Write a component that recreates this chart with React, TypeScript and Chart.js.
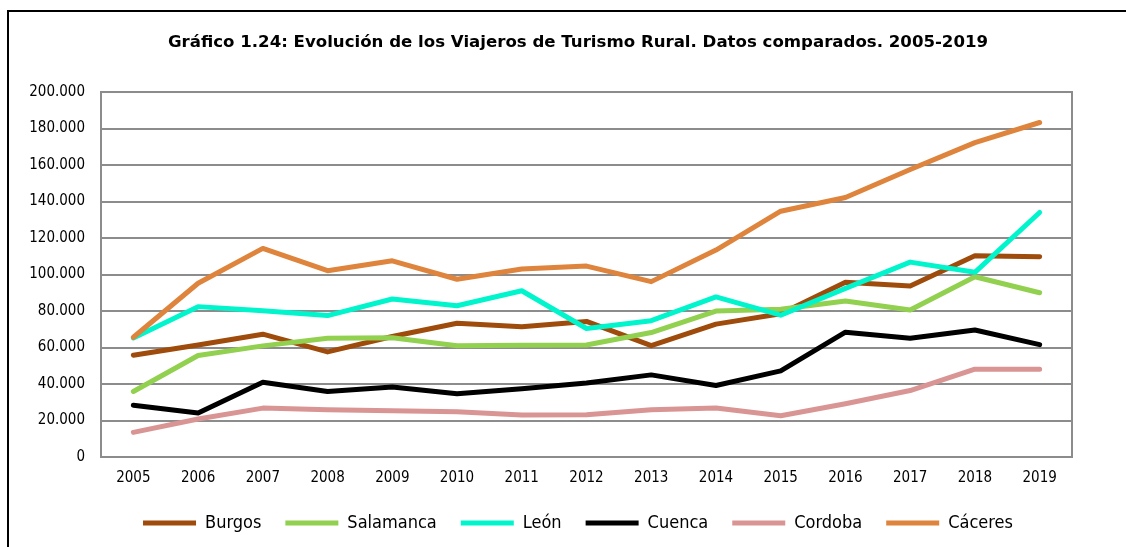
import React, { useEffect, useRef } from "react";
import { Chart, registerables } from "chart.js";

Chart.register(...registerables);

const years = ["2005", "2006", "2007", "2008", "2009", "2010", "2011", "2012", "2013", "2014", "2015", "2016", "2017", "2018", "2019"];
const burgos = [55800, 61400, 67300, 57600, 66000, 73300, 71400, 74300, 61000, 72800, 78500, 95700, 93700, 110300, 109700];
const salamanca = [35900, 55600, 60900, 65100, 65300, 61000, 61300, 61400, 68200, 80000, 81000, 85500, 80600, 98800, 90000];
const leon = [65200, 82400, 80200, 77500, 86600, 82900, 91100, 70400, 74700, 87700, 77700, 92400, 106800, 101200, 134000];
const cuenca = [28400, 24100, 41000, 35900, 38300, 34600, 37400, 40600, 45000, 39200, 47200, 68400, 65100, 69600, 61600];
const cordoba = [13500, 20800, 26800, 25900, 25300, 24800, 23000, 23100, 25900, 26800, 22600, 29200, 36400, 48100, 48100];
const caceres = [65600, 95200, 114300, 102100, 107500, 97400, 103000, 104600, 96100, 113400, 134700, 142200, 157500, 172300, 183300];

const seriesNames = ["Burgos", "Salamanca", "León", "Cuenca", "Cordoba", "Cáceres"];
const seriesColors = ["#9E4B0B", "#92D050", "#00F5CC", "#000000", "#D99594", "#DE843C"];
const yTickValues = [0, 20000, 40000, 60000, 80000, 100000, 120000, 140000, 160000, 180000, 200000];

const titleText = "Gráfico 1.24: Evolución de los Viajeros de Turismo Rural. Datos comparados. 2005-2019";

function formatThousands(v: number): string {
  return String(Math.round(v)).replace(/\B(?=(\d{3})+(?!\d))/g, ".");
}

const frameBox = {
  id: "frameBox",
  afterDatasetsDraw(chart: any) {
    const { ctx, chartArea } = chart;
    ctx.save();
    ctx.strokeStyle = "#8c8c8c";
    ctx.lineWidth = 2;
    ctx.strokeRect(chartArea.left, chartArea.top, chartArea.right - chartArea.left, chartArea.bottom - chartArea.top);
    ctx.restore();
  },
};

const CONDENSED = "'DejaVu Sans Condensed', 'DejaVu Sans', sans-serif";

export default function App() {
  const ref = useRef<HTMLCanvasElement | null>(null);
  useEffect(() => {
    if (!ref.current) return;
    const allSeries = [burgos, salamanca, leon, cuenca, cordoba, caceres];
    const chart = new Chart(ref.current, {
      type: "line",
      data: {
        labels: years,
        datasets: allSeries.map((d, i) => ({
          label: seriesNames[i],
          data: d,
          yAxisID: "y",
          borderColor: seriesColors[i],
          backgroundColor: seriesColors[i],
          borderWidth: 5,
          pointRadius: 0,
          pointHoverRadius: 0,
          tension: 0,
          borderCapStyle: "round",
          borderJoinStyle: "round",
          pointStyle: "line",
          order: 6 - i,
        })),
      },
      plugins: [frameBox],
      options: {
        animation: false,
        responsive: false,
        devicePixelRatio: 1,
        layout: { padding: { left: 0, right: -30, top: 0, bottom: 5 } },
        plugins: {
          title: {
            display: true,
            text: titleText,
            color: "#000",
            font: { family: "'DejaVu Sans', sans-serif", size: 16.6, weight: "bold", lineHeight: 1.2 },
            padding: { top: 33, bottom: 39.1 },
          },
          legend: {
            display: true,
            position: "bottom",
            labels: {
              usePointStyle: true,
              pointStyle: "line",
              pointStyleWidth: 53,
              boxHeight: 18,
              padding: 24,
              color: "#000",
              font: { family: CONDENSED, size: 18 },
              sort: (a: any, b: any) => a.datasetIndex - b.datasetIndex,
            },
          },
          tooltip: { enabled: false },
        },
        scales: {
          x: {
            offset: true,
            grid: { display: false, drawTicks: false },
            border: { display: true, color: "#8c8c8c", width: 2 },
            ticks: { color: "#000", font: { family: CONDENSED, size: 15 }, padding: 12, maxRotation: 0, autoSkip: false },
            afterFit: (s: any) => { s.height = 33; },
          },
          y: {
            min: 0,
            max: 200000,
            afterBuildTicks: (s: any) => { s.ticks = yTickValues.map((v) => ({ value: v })); },
            grid: { color: "#8c8c8c", lineWidth: 2, drawTicks: false },
            border: { display: true, color: "#8c8c8c", width: 2 },
            ticks: {
              color: "#000",
              font: { family: CONDENSED, size: 15 },
              padding: 16,
              callback: (v: any) => formatThousands(Number(v)),
            },
            afterFit: (s: any) => { s.width = 101; },
          },
          yRight: {
            type: "linear",
            position: "right",
            display: true,
            grid: { display: false, drawTicks: false },
            border: { display: false },
            ticks: { display: false },
            afterFit: (s: any) => { s.width = 84; },
          },
        },
      },
    } as any);
    return () => chart.destroy();
  }, []);

  return (
    <div style={{ position: "absolute", left: 0, top: 0, width: 1126, height: 547, background: "#fff", overflow: "hidden" }}>
      <div style={{ position: "absolute", left: 7, top: 10, width: 1200, height: 600, borderLeft: "2px solid #000", borderTop: "2px solid #000" }} />
      <canvas ref={ref} width={1126} height={547} style={{ position: "absolute", left: 0, top: 0, width: 1126, height: 547 }} />
    </div>
  );
}
